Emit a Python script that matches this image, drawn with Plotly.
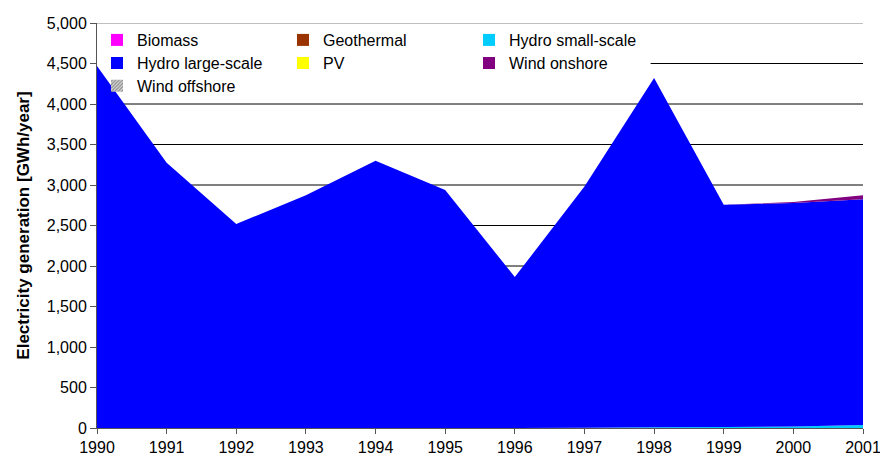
import plotly.graph_objects as go

# Electricity generation by source, GWh/year
years = list(range(1990, 2002))
biomass = [0] * 12
geothermal = [0] * 12
hydro_small = [0, 0, 0, 0, 0, 0, 0, 2, 8, 12, 18, 38]
hydro_large = [4470, 3275, 2519, 2873, 3300, 2938, 1864, 2978, 4313, 2744, 2760, 2785]
pv = [0] * 12
wind_onshore = [0, 0, 0, 0, 0, 0, 0, 0, 0, 1, 12, 50]
wind_offshore = [0] * 12
y_ticks = list(range(0, 5001, 500))

series = [
    ("Biomass", biomass, "#FF00FF"),
    ("Geothermal", geothermal, "#993300"),
    ("Hydro small-scale", hydro_small, "#00CCFF"),
    ("Hydro large-scale", hydro_large, "#0000FF"),
    ("PV", pv, "#FFFF00"),
    ("Wind onshore", wind_onshore, "#800080"),
    ("Wind offshore", wind_offshore, "#999999"),
]
# legend rows as laid out in the reference
legend_rows = {
    "Biomass": "legend", "Geothermal": "legend", "Hydro small-scale": "legend",
    "Hydro large-scale": "legend2", "PV": "legend2", "Wind onshore": "legend2",
    "Wind offshore": "legend3",
}

fig = go.Figure()

for name, vals, color in series:
    fig.add_trace(go.Scatter(
        x=years, y=vals, name=name, stackgroup="one",
        mode="none", fillcolor=color, showlegend=False,
    ))

# legend-only square swatches
for name, vals, color in series:
    pattern = dict(shape="/", fgcolor="#333333", bgcolor="#dddddd", size=3, solidity=0.5) if name == "Wind offshore" else None
    fig.add_trace(go.Bar(
        x=[years[0]], y=[0], name=name, legend=legend_rows[name],
        marker=dict(color=color, line=dict(width=0), pattern=pattern),
        hoverinfo="skip",
    ))

# gridlines drawn under the areas; the legend box hides the left part of the 4,500 one
grid = []
for v in y_ticks[1:]:
    x0 = 1997.95 if v == 4500 else years[0]
    grid.append(dict(type="line", xref="x", yref="y", x0=x0, x1=years[-1], y0=v, y1=v,
                     line=dict(color="#808080" if v == 5000 else "black", width=1), layer="below"))

font = dict(family="Liberation Sans, Arial, sans-serif", size=16, color="black")
leg = dict(orientation="h", x=0, xanchor="left", yanchor="middle", traceorder="normal",
           bgcolor="rgba(0,0,0,0)", entrywidth=141, font=font, itemwidth=30)

fig.update_layout(
    width=880, height=461,
    margin=dict(l=97, r=17, t=23, b=33, autoexpand=False),
    plot_bgcolor="white", paper_bgcolor="white",
    font=font,
    showlegend=True,
    legend=dict(leg, y=0.958),
    legend2=dict(leg, y=0.901),
    legend3=dict(leg, y=0.845),
    xaxis=dict(
        range=[1990, 2001], tickvals=years, ticklabeloverflow="allow",
        showgrid=False, showline=True, linecolor="#555555", automargin=False,
        ticks="outside", ticklen=5, tickcolor="#555555", zeroline=False,
    ),
    yaxis=dict(
        range=[0, 5000], tickvals=y_ticks, tickformat=",d", automargin=False,
        showgrid=False, showline=True, linecolor="#555555",
        ticks="outside", ticklen=6, tickcolor="#555555", zeroline=False,
        title=dict(text="<b>Electricity generation [GWh/year]</b>", standoff=12, font=dict(size=17)),
    ),
    shapes=grid,
)

# drop the browser's default body margin so the figure sits at the page corner
fig.write_html("out.html", config={"displayModeBar": False},
               post_script="document.body.style.margin='0';")
